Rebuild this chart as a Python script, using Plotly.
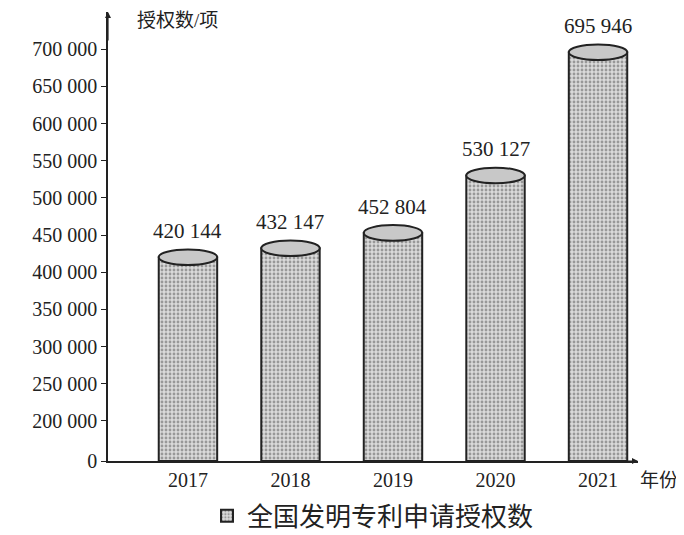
import plotly.graph_objects as go

years = ["2017", "2018", "2019", "2020", "2021"]
grants = [420144, 432147, 452804, 530127, 695946]
tick_vals = [200000, 250000, 300000, 350000, 400000, 450000, 500000, 550000, 600000, 650000, 700000]
series_name = "全国发明专利申请授权数"

BASE = 146000  # broken axis: the "0" label sits here
FONT = "Liberation Serif, Noto Sans CJK SC"
xs = list(range(len(years)))
W = 0.57
EH = 21000  # ellipse height in data units

fig = go.Figure()
fig.add_trace(go.Bar(
    x=xs, y=[g - BASE for g in grants], base=BASE, width=W, name=series_name,
    marker=dict(color="#d0d0d0", line=dict(color="#222", width=2),
                pattern=dict(shape=".", fgcolor="#555", bgcolor="#dadada", size=4, solidity=0.4)),
    showlegend=True,
))

shapes = []
for x, g in zip(xs, grants):
    shapes.append(dict(type="path",
                       path=f"M {x-W/2},{BASE} Q {x},{BASE-EH*0.9} {x+W/2},{BASE}",
                       line=dict(color="#222", width=2)))
    shapes.append(dict(type="circle", x0=x - W / 2, x1=x + W / 2, y0=g - EH / 2, y1=g + EH / 2,
                       fillcolor="#c8c8c8", line=dict(color="#222", width=2)))

ann = []
for x, g in zip(xs, grants):
    s = f"{g:,}".replace(",", " ")
    ann.append(dict(x=x, y=g, text=s, showarrow=False, yshift=26,
                    font=dict(size=21, family=FONT, color="#222")))
ann.append(dict(x=0, y=1, xref="paper", yref="paper", ax=0, ay=30, showarrow=True,
                arrowhead=2, arrowwidth=1.2, arrowcolor="#222", text=""))
ann.append(dict(x=1, y=0, xref="paper", yref="paper", ax=-30, ay=0, showarrow=True,
                arrowhead=2, arrowwidth=1.2, arrowcolor="#222", text=""))
ann.append(dict(x=0.05, y=1.01, xref="paper", yref="paper", text="授权数/项", showarrow=False,
                xanchor="left", yanchor="top", font=dict(size=19, family=FONT, color="#222")))
ann.append(dict(x=1.0, y=-0.015, xref="paper", yref="paper", text="年份", showarrow=False,
                xanchor="left", yanchor="top", font=dict(size=19, family=FONT, color="#222")))

fig.update_layout(
    width=684, height=535, margin=dict(l=100, r=54, t=4, b=70),
    plot_bgcolor="white", paper_bgcolor="white",
    shapes=shapes, annotations=ann,
    font=dict(family=FONT, size=20, color="#222"),
    xaxis=dict(range=[-0.78, 4.39], tickvals=xs, ticktext=years, showline=True,
               linecolor="#222", linewidth=1.5, showgrid=False, zeroline=False, ticks=""),
    yaxis=dict(range=[BASE, 750000], tickvals=[BASE] + tick_vals,
               ticktext=["0"] + [f"{v:,}".replace(",", " ") for v in tick_vals],
               showline=True, linecolor="#222", linewidth=1.5, ticks="outside", ticklen=5,
               tickcolor="#222", showgrid=False, zeroline=False),
    legend=dict(orientation="h", x=0.5, xanchor="center", y=-0.07, yanchor="top",
                font=dict(size=26, family=FONT)),
    bargap=0.4,
)
fig.write_html("out.html")
